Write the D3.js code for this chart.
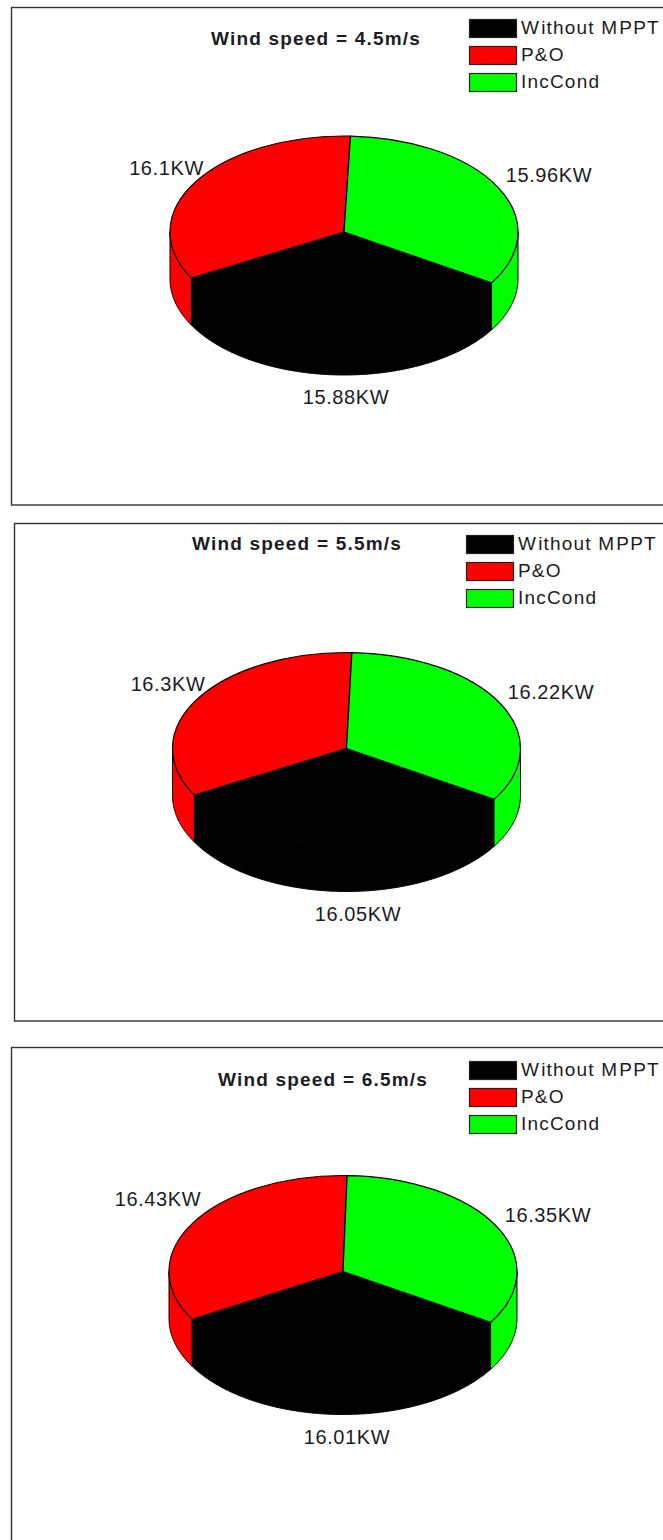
<!DOCTYPE html>
<html>
<head>
<meta charset="utf-8">
<script src="https://cdn.jsdelivr.net/npm/d3@7"></script>
<style>
    html, body { margin: 0; padding: 0; background: #fff; }
    svg { display: block; }
    text { font-family: "Liberation Sans", Arial, sans-serif; fill: #1c1c24; }
</style>
</head>
<body>
<svg id="chart" width="663" height="1540"></svg>
<script>
// values, kW
let categories = ['Without MPPT', 'P&O', 'IncCond']
let titles = ['Wind speed = 4.5m/s', 'Wind speed = 5.5m/s', 'Wind speed = 6.5m/s']
let withoutMppt = [15.88, 16.05, 16.01]
let perturbObserve = [16.1, 16.3, 16.43]
let incCond = [15.96, 16.22, 16.35]
let colors = ['#000000', '#ff0000', '#00ff00']

// where each of the three charts sits on the page
let layout = [
    {box: [11.5, 7.5, 700, 497.5], cx: 344, cy: 232, title: [316, 45], legend: [469, 19],
        labels: [[346, 404], [166.5, 175], [549, 182]]},
    {box: [14.5, 523.5, 700, 497.5], cx: 346.5, cy: 748.5, title: [297, 550], legend: [466, 535],
        labels: [[358, 921], [168, 691], [551, 699]]},
    {box: [11.5, 1047.5, 700, 520], cx: 343, cy: 1271.5, title: [323, 1086], legend: [469, 1061],
        labels: [[347, 1444], [158, 1206], [548, 1222]]}
]

function main() {
    let svg = d3.select('#chart')
    let rx = 174, ry = 96, depth = 47
    let startAngle = 122 * Math.PI / 180

    let pie = d3.pie().sort(null).value(d => d)
        .startAngle(startAngle).endAngle(startAngle + 2 * Math.PI)
    let arc = d3.arc().innerRadius(0).outerRadius(rx)

    layout.forEach((l, i) => {
        let g = svg.append('g')
        let values = [withoutMppt[i], perturbObserve[i], incCond[i]]
        let slices = pie(values)

        g.append('rect')
            .attr('x', l.box[0])
            .attr('y', l.box[1])
            .attr('width', l.box[2])
            .attr('height', l.box[3])
            .attr('fill', 'none')
            .attr('stroke', '#333')
            .attr('stroke-width', 1.4)

        g.append('text')
            .attr('x', l.title[0])
            .attr('y', l.title[1])
            .attr('text-anchor', 'middle')
            .attr('font-size', 19)
            .attr('font-weight', 'bold')
            .attr('letter-spacing', 1.2)
            .text(titles[i])

        // side wall, only the part of each slice facing the viewer
        let side = d3.area()
            .x(a => l.cx + rx * Math.sin(a))
            .y0(a => l.cy - ry * Math.cos(a))
            .y1(a => l.cy - ry * Math.cos(a) + depth)
        let front = [Math.PI / 2, 3 * Math.PI / 2]
        slices.forEach((s, j) => {
            [0, 2 * Math.PI].forEach(turn => {
                let a0 = Math.max(s.startAngle - turn, front[0]),
                    a1 = Math.min(s.endAngle - turn, front[1])
                if (a1 <= a0) return
                let steps = d3.range(a0, a1, 0.01).concat([a1])
                g.append('path')
                    .attr('d', side(steps))
                    .attr('fill', colors[j])
                    .attr('stroke', '#000')
                    .attr('stroke-width', 1)
            })
        })

        // top of the pie is a normal d3 arc squashed into an ellipse
        g.append('g')
            .attr('transform', 'translate(' + l.cx + ',' + l.cy + ') scale(1,' + (ry / rx) + ')')
            .selectAll('path')
            .data(slices)
            .enter()
            .append('path')
            .attr('d', arc)
            .attr('fill', (d, j) => colors[j])
            .attr('stroke', '#000')
            .attr('stroke-width', 1.2)
            .attr('vector-effect', 'non-scaling-stroke')

        g.selectAll('.value')
            .data(values)
            .enter()
            .append('text')
            .attr('class', 'value')
            .attr('x', (d, j) => l.labels[j][0])
            .attr('y', (d, j) => l.labels[j][1])
            .attr('text-anchor', 'middle')
            .attr('font-size', 20)
            .attr('letter-spacing', 0.6)
            .text(d => d + 'KW')

        categories.forEach((c, j) => {
            let y = l.legend[1] + j * 27
            g.append('rect')
                .attr('x', l.legend[0] + 0.5)
                .attr('y', y + 0.5)
                .attr('width', 47)
                .attr('height', 18)
                .attr('fill', colors[j])
                .attr('stroke', '#222')
                .attr('stroke-width', 1.2)
            let label = g.append('text')
                .attr('x', l.legend[0] + 52)
                .attr('y', y + 15)
                .attr('font-size', 19)
                .attr('letter-spacing', 1.2)
            if (j == 0) {
                // the source spaces this one oddly after the W and the M
                label.append('tspan').text('W')
                label.append('tspan').attr('dx', 1).text('ithout M')
                label.append('tspan').attr('dx', 1).text('PPT')
            } else {
                label.text(c)
            }
        })
    })
}

main()
</script>
</body>
</html>
